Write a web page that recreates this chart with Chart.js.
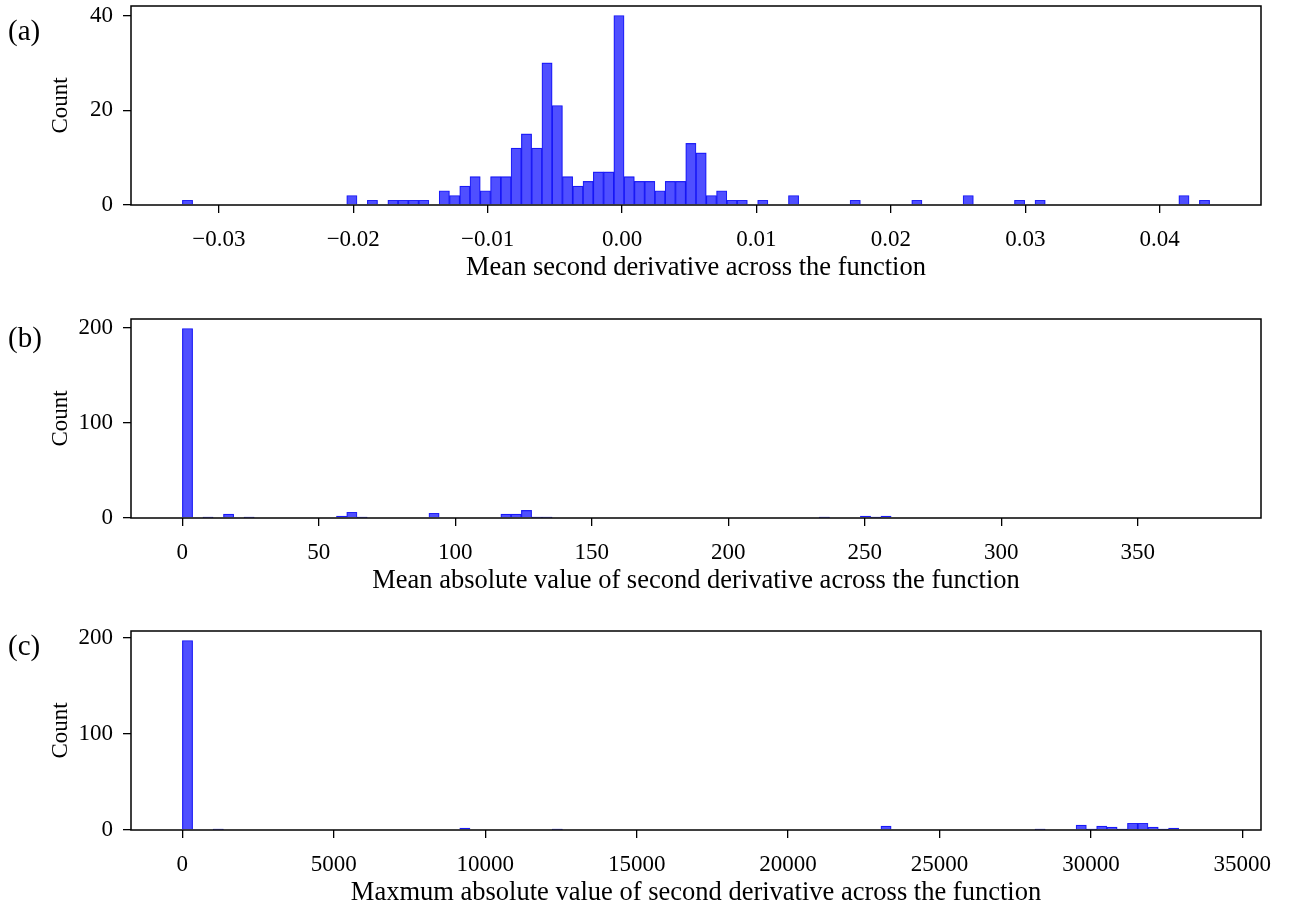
<!DOCTYPE html>
<html>
<head>
<meta charset="utf-8">
<script src="https://cdn.jsdelivr.net/npm/chart.js@4.4.1/dist/chart.umd.min.js"></script>
<style>
  body { margin: 0; background: #fff; }
  #wrap { position: relative; width: 1289px; height: 909px; overflow: hidden; }
  canvas { position: absolute; left: 0; }
  .tag { position: absolute; left: 8px; font-family: "Liberation Serif", "Times New Roman", serif; font-size: 29px; line-height: 34px; color: #000; }
</style>
</head>
<body>
<div id="wrap">
  <canvas id="ca" width="1289" height="311" style="top:0px"></canvas>
  <canvas id="cb" width="1289" height="311" style="top:313px"></canvas>
  <canvas id="cc" width="1289" height="311" style="top:625px"></canvas>
  <div class="tag" style="top:13px">(a)</div>
  <div class="tag" style="top:320px">(b)</div>
  <div class="tag" style="top:628px">(c)</div>
</div>
<script>
// (a) mean second derivative, 100 bins
var loA = -0.032714, binA = 0.0007643;
var countsA = [
  1,0,0,0,0,0,0,0,0,0, 0,0,0,0,0,0,2,0,1,0,
  1,1,1,1,0,3,2,4,6,3, 6,6,12,15,12,30,21,6,4,5,
  7,7,40,6,5,5,3,5,5,13, 11,2,3,1,1,0,1,0,0,2,
  0,0,0,0,0,1,0,0,0,0, 0,1,0,0,0,0,2,0,0,0,
  0,1,0,1,0,0,0,0,0,0, 0,0,0,0,0,0,0,2,0,1
];
var xTicksA = [-0.03, -0.02, -0.01, 0, 0.01, 0.02, 0.03, 0.04];
var yTicksA = [0, 20, 40];

// (b) mean absolute second derivative
var loB = 0, binB = 3.763;
var countsB = [
  199,0,1,0,4,0,1,0,0,0, 0,0,0,0,0,2,6,1,0,0,
  0,0,0,0,5,0,0,0,0,0, 0,4,4,8,1,1,0,0,0,0,
  0,0,0,0,0,0,0,0,0,0, 0,0,0,0,0,0,0,0,0,0,
  0,0,1,0,0,0,2,1,2,0, 0,0,0,0,0,0,0,0,0,0,
  0,0,0,0,0,0,0,0,0,0, 0,0,0,0,0,0,0,0,0,0
];
var xTicksB = [0, 50, 100, 150, 200, 250, 300, 350];
var yTicksB = [0, 100, 200];

// (c) maximum absolute second derivative
var loC = 0, binC = 339.2;
var countsC = [
  197,0,0,1,0,0,0,0,0,0, 0,0,0,0,0,0,0,0,0,0,
  0,0,0,0,0,0,0,2,0,0, 0,0,0,0,0,0,1,0,0,0,
  0,0,0,0,0,0,0,0,0,0, 0,0,0,0,0,0,0,0,0,0,
  0,0,0,0,0,0,0,0,4,0, 0,0,0,0,0,0,0,0,0,0,
  0,0,0,1,0,0,0,5,1,4, 3,1,7,7,3,1,2,0,0,0
];
var xTicksC = [0, 5000, 10000, 15000, 20000, 25000, 30000, 35000];
var yTicksC = [0, 100, 200];

var serif = '"Liberation Serif", "Times New Roman", serif';

var frame = {
  id: 'frame',
  afterDraw: function (chart) {
    var ctx = chart.ctx, a = chart.chartArea;
    ctx.save();
    ctx.strokeStyle = '#000';
    ctx.lineWidth = 1.5;
    ctx.strokeRect(a.left, a.top, a.right - a.left, a.bottom - a.top);
    ctx.restore();
  }
};

function histPanel(id, lo, w, counts, xTicks, yTicks, fmt, xTitle) {
  var n = counts.length;
  var pts = counts.map(function (c, i) { return { x: lo + (i + 0.5) * w, y: c }; });
  var span = n * w;
  var ymax = Math.max.apply(null, counts) * 1.05;
  new Chart(document.getElementById(id), {
    type: 'bar',
    data: {
      datasets: [{
        data: pts,
        backgroundColor: 'rgba(0,0,255,0.69)',
        borderColor: 'rgba(0,0,235,0.8)',
        borderWidth: 0.5,
        barPercentage: 1,
        categoryPercentage: 1
      }]
    },
    options: {
      responsive: false,
      animation: false,
      devicePixelRatio: 1,
      layout: { padding: { top: 6, right: 28, left: 0, bottom: 0 } },
      plugins: { legend: { display: false }, tooltip: { enabled: false } },
      scales: {
        x: {
          type: 'linear',
          offset: false,
          min: lo - 0.05 * span,
          max: lo + 1.05 * span,
          afterBuildTicks: function (s) { s.ticks = xTicks.map(function (v) { return { value: v }; }); },
          afterFit: function (s) { s.height = 106; s.paddingLeft = 0; s.paddingRight = 0; },
          grid: { offset: false, drawOnChartArea: false, drawTicks: true, tickLength: 8, color: '#000', lineWidth: 1.3 },
          border: { display: false },
          ticks: { autoSkip: false, maxRotation: 0, padding: 13, color: '#000', font: { family: serif, size: 23 },
                   callback: function (v) { return fmt(v); } },
          title: { display: true, text: xTitle, color: '#000', font: { family: serif, size: 26.5 }, padding: { top: 0, bottom: 27 } }
        },
        y: {
          min: 0,
          max: ymax,
          afterBuildTicks: function (s) { s.ticks = yTicks.map(function (v) { return { value: v }; }); },
          afterFit: function (s) { s.width = 131; s.paddingTop = 0; s.paddingBottom = 0; },
          grid: { drawOnChartArea: false, drawTicks: true, tickLength: 8, color: '#000', lineWidth: 1.3 },
          border: { display: false },
          ticks: { padding: 10, color: '#000', font: { family: serif, size: 23 } },
          title: { display: true, text: 'Count', color: '#000', font: { family: serif, size: 23 }, padding: { top: 47, bottom: 0 } }
        }
      }
    },
    plugins: [frame]
  });
}

function fmt2(v) { return (Math.abs(v) < 1e-9 ? 0 : v).toFixed(2).replace('-', '\u2212'); }
function fmtInt(v) { return String(Math.round(v)); }

histPanel('ca', loA, binA, countsA, xTicksA, yTicksA, fmt2, 'Mean second derivative across the function');
histPanel('cb', loB, binB, countsB, xTicksB, yTicksB, fmtInt, 'Mean absolute value of second derivative across the function');
histPanel('cc', loC, binC, countsC, xTicksC, yTicksC, fmtInt, 'Maxmum absolute value of second derivative across the function');
</script>
</body>
</html>
